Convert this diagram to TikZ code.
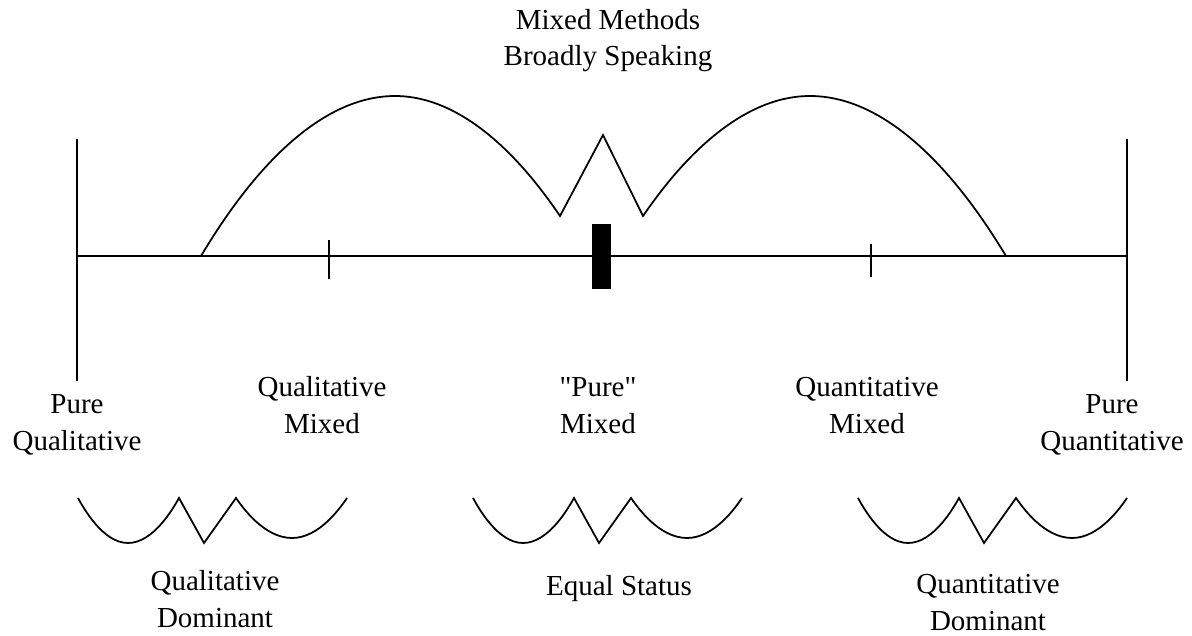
\documentclass[tikz,border=0pt]{standalone}
\usepackage{fontspec}
\setmainfont{Liberation Serif}

\begin{document}
\begin{tikzpicture}[x=0.02cm, y=-0.02cm, line width=1pt,
    lbl/.style={align=center, anchor=base, inner sep=0pt,
        font=\fontsize{16.5pt}{20.5pt}\selectfont}]
    \useasboundingbox (0,0) rectangle (1192,635);

    % Continuum axis
    \coordinate (qualend) at (77,256);
    \coordinate (quantend) at (1127,256);
    \draw (qualend) -- (quantend);
    \draw (77,139) -- (77,381);
    \draw (1127,139) -- (1127,381);
    \draw (329,240) -- (329,279);
    \draw (871,244) -- (871,277);
    \fill (592,224) rectangle (611,289);

    % Mixed methods arch
    \draw (201,256) parabola bend (395,96) (560,216) -- (603,135) -- (643,216)
        parabola bend (810,96) (1006,256);
    \node[lbl] (broad) at (608,66) {Mixed Methods\\Broadly Speaking};

    % Positions on the continuum
    \node[lbl] (purequal) at (77,450) {Pure\\Qualitative};
    \node[lbl] (qualmix) at (322,433) {Qualitative\\Mixed};
    \node[lbl] (puremix) at (598,433) {\textquotedbl Pure\textquotedbl\\Mixed};
    \node[lbl] (quantmix) at (867,433) {Quantitative\\Mixed};
    \node[lbl] (purequant) at (1112,450) {Pure\\Quantitative};

    % Status curves
    \foreach \x in {78,473,858} {
        \begin{scope}[shift={(\x,0)}]
            \draw (0,498) parabola bend (50,543) (101,498) -- (126,543) -- (158,498)
                parabola bend (214,538) (269,498);
        \end{scope}
    }
    \node[lbl] (qualdom) at (215,627) {Qualitative\\Dominant};
    \node[lbl] (equal) at (619,595) {Equal Status};
    \node[lbl] (quantdom) at (988,630) {Quantitative\\Dominant};
\end{tikzpicture}
\end{document}
